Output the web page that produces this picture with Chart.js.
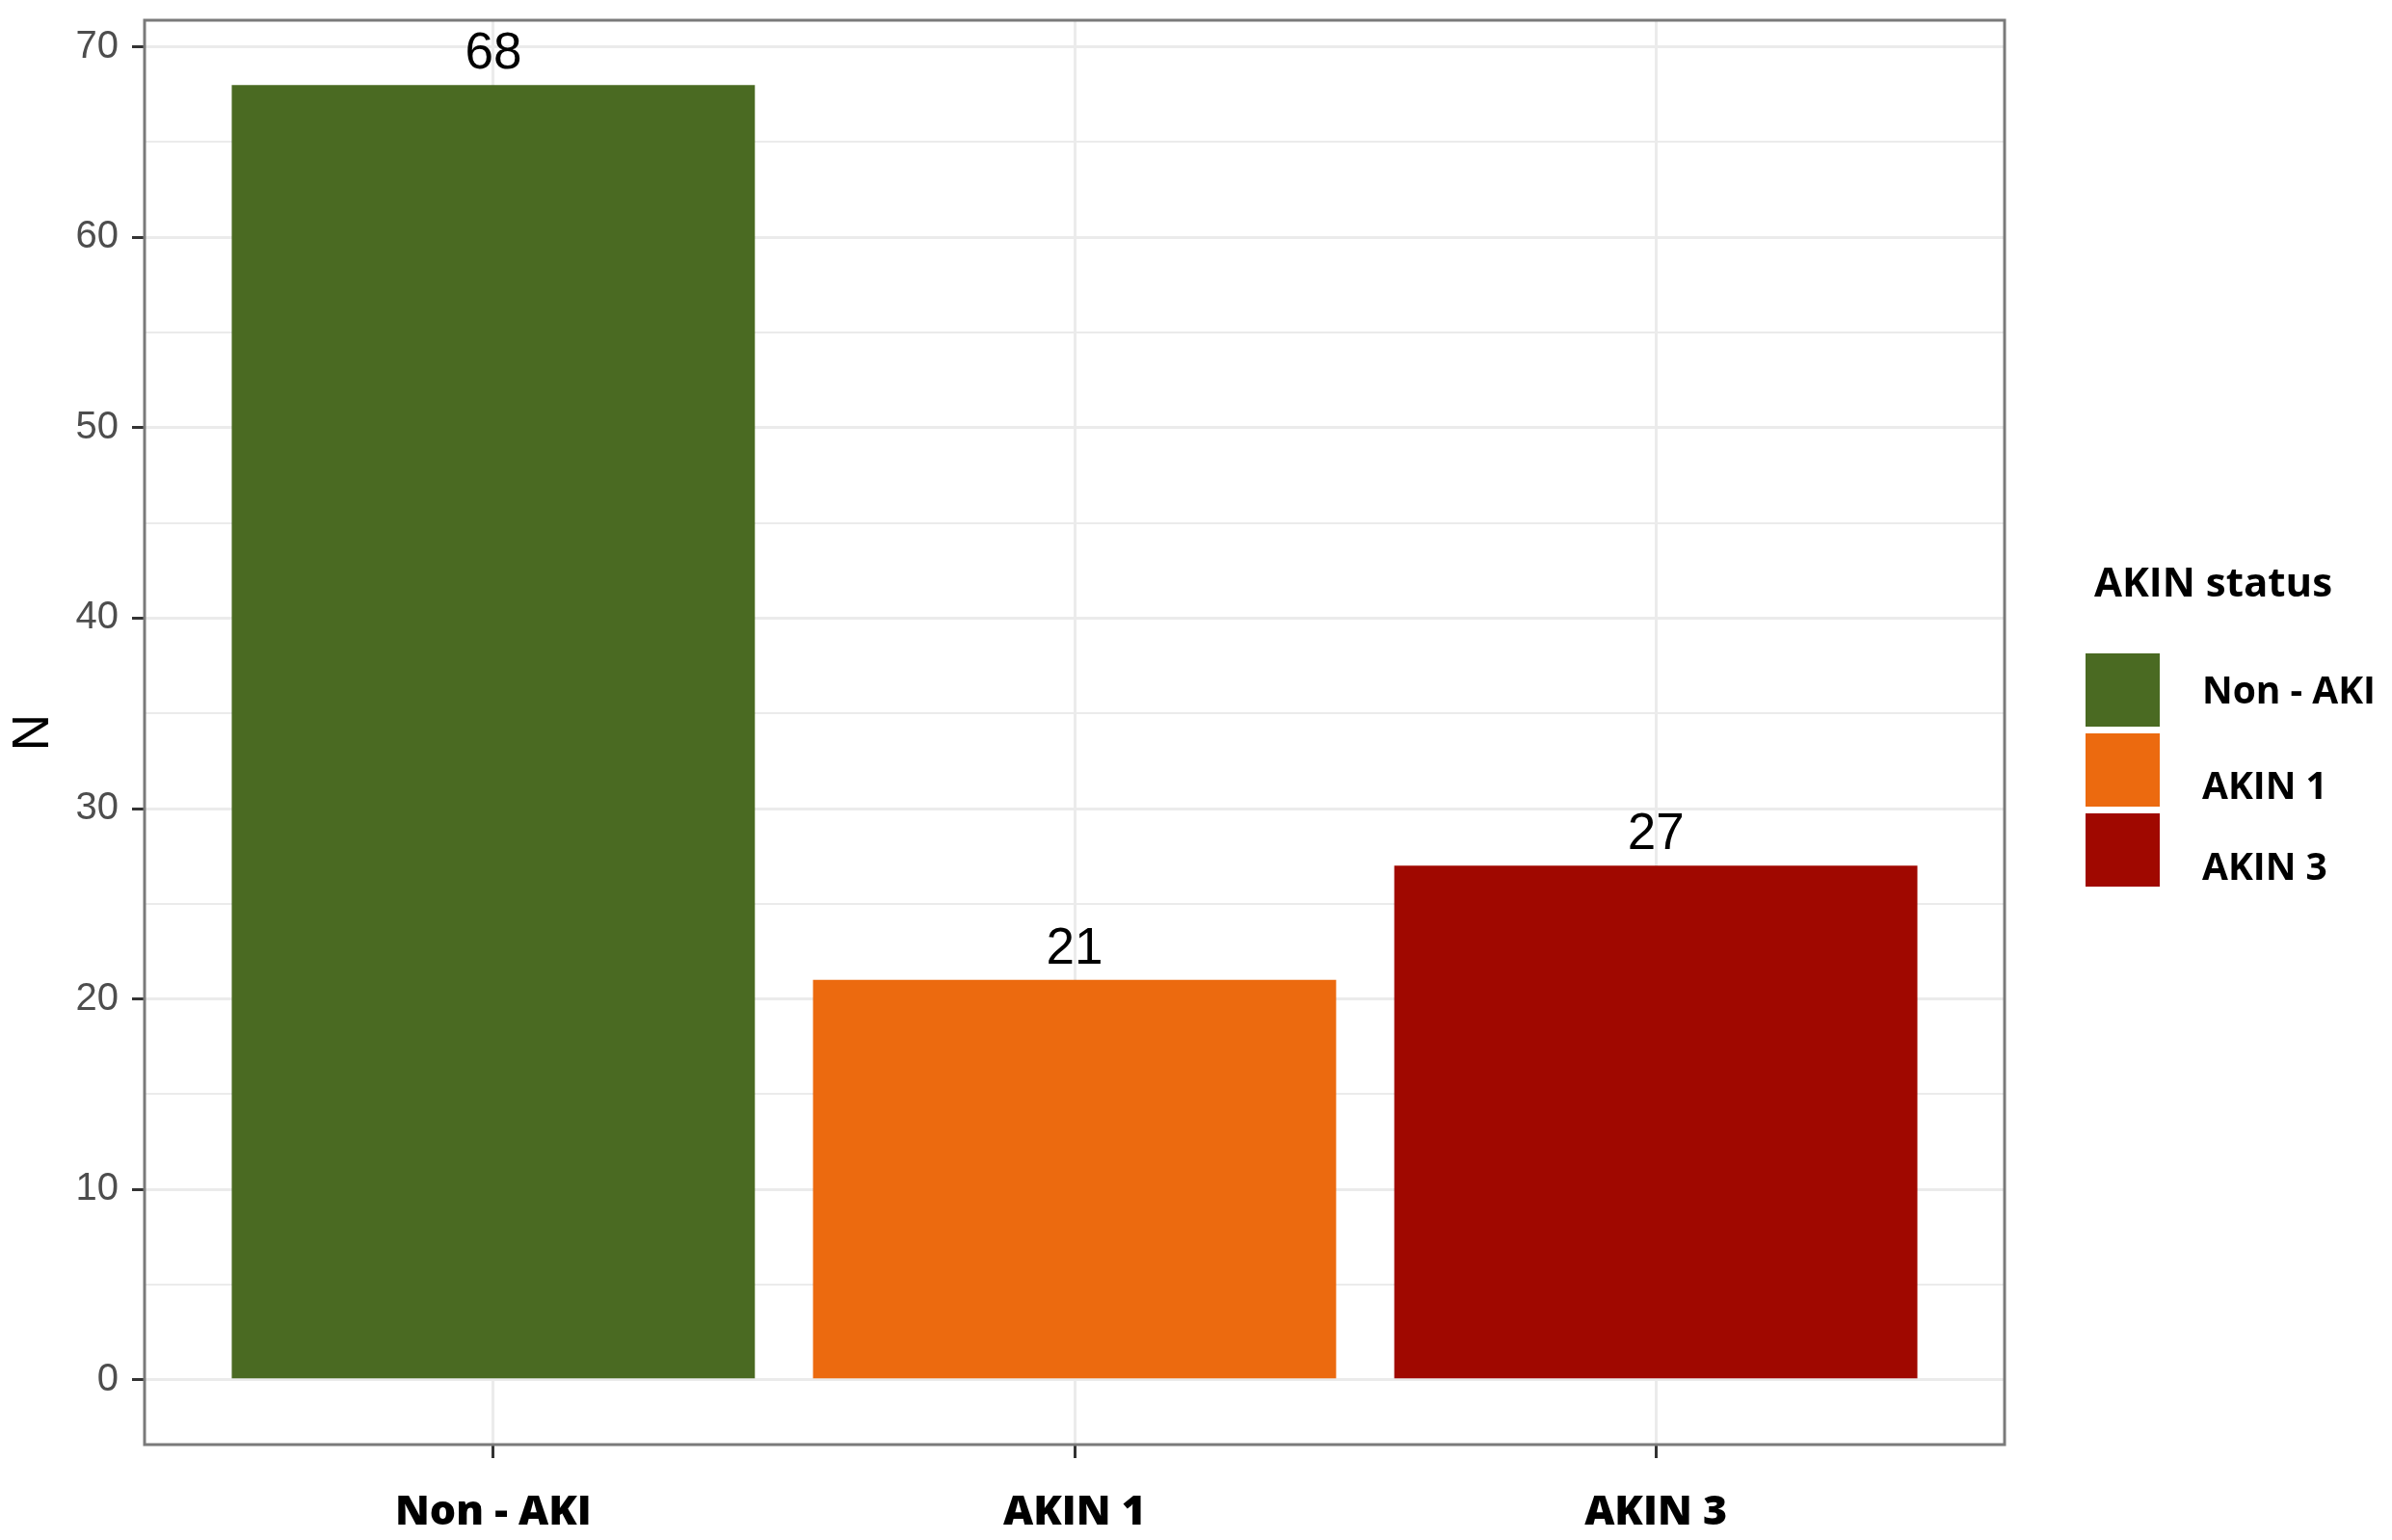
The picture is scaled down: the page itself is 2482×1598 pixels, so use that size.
<!DOCTYPE html>
<html><head><meta charset="utf-8">
<script src="https://cdn.jsdelivr.net/npm/chart.js@4.4.1/dist/chart.umd.min.js"></script>
<style>html,body{margin:0;padding:0;background:#fff}canvas{display:block}</style>
</head><body>
<canvas id="c" width="2482" height="1598"></canvas>
<script>
const categories = ['Non - AKI', 'AKIN 1', 'AKIN 3'];
const counts = [68, 21, 27];
const barColors = ['#4a6a22', '#ec6a0f', '#a00800'];
const yMajorTicks = [0, 10, 20, 30, 40, 50, 60, 70];
const yMinorTicks = [5, 15, 25, 35, 45, 55, 65];
const xTickPositions = [1, 2, 3];
const yTitle = 'N';
const legendTitle = 'AKIN status';

const GRID = '#ebebeb';
const TICK = '#333333';

const panelBorder = {
  id: 'panelBorder',
  afterDraw(chart) {
    const a = chart.chartArea, ctx = chart.ctx;
    ctx.save();
    ctx.strokeStyle = '#7a7a7a';
    ctx.lineWidth = 3;
    ctx.strokeRect(a.left, a.top, a.right - a.left, a.bottom - a.top);
    ctx.restore();
  }
};

const valueLabels = {
  id: 'valueLabels',
  afterDatasetsDraw(chart) {
    const ctx = chart.ctx;
    const meta = chart.getDatasetMeta(0);
    ctx.save();
    ctx.fillStyle = '#000';
    ctx.font = '53px "Liberation Sans", Arial, sans-serif';
    ctx.textAlign = 'center';
    ctx.textBaseline = 'alphabetic';
    meta.data.forEach((bar, i) => {
      ctx.fillText(String(counts[i]), bar.x, bar.y - 17);
    });
    ctx.restore();
  }
};

const ggLegend = {
  id: 'ggLegend',
  afterDraw(chart) {
    const ctx = chart.ctx;
    const a = chart.chartArea;
    const x0 = a.right + 84;
    ctx.save();
    ctx.fillStyle = '#000';
    ctx.font = 'bold 42px "Open Sans", sans-serif';
    ctx.textAlign = 'left';
    ctx.textBaseline = 'alphabetic';
    ctx.fillText(legendTitle, x0 + 9, 619);
    const keyTop = 678, keyH = 76, keyStep = 83;
    const labelOffsets = [0, 16, 17];
    categories.forEach((c, i) => {
      const top = keyTop + i * keyStep;
      ctx.fillStyle = barColors[i];
      ctx.fillRect(x0, top, 77, keyH);
      ctx.fillStyle = '#000';
      ctx.font = 'bold 39px "Open Sans", sans-serif';
      ctx.fillText(c, x0 + 121, top + keyH / 2 + 14 + labelOffsets[i]);
    });
    ctx.restore();
  }
};

new Chart(document.getElementById('c'), {
  type: 'bar',
  data: {
    datasets: [{
      data: categories.map((c, i) => ({ x: xTickPositions[i], y: counts[i] })),
      backgroundColor: barColors,
      borderWidth: 0,
      barPercentage: 0.9,
      categoryPercentage: 1.0
    }]
  },
  options: {
    responsive: false,
    devicePixelRatio: 1,
    animation: false,
    layout: { padding: { top: 21, right: 402, left: 0, bottom: 0 } },
    plugins: { legend: { display: false }, tooltip: { enabled: false } },
    scales: {
      x: {
        type: 'linear',
        offset: false,
        min: 0.4,
        max: 3.6,
        afterBuildTicks: s => { s.ticks = xTickPositions.map(v => ({ value: v })); },
        afterFit: s => { s.height = 99; s.paddingLeft = 0; s.paddingRight = 0; },
        border: { display: false },
        grid: { offset: false, color: GRID, lineWidth: 3, tickColor: TICK, tickWidth: 3, tickLength: 14 },
        ticks: {
          autoSkip: false,
          maxRotation: 0,
          padding: 31,
          color: '#000',
          font: { family: '"Open Sans", sans-serif', size: 43, weight: '800' },
          callback: (v) => categories[xTickPositions.indexOf(v)] ?? ''
        }
      },
      y: {
        type: 'linear',
        min: -3.4,
        max: 71.4,
        afterBuildTicks: s => {
          s.ticks = [...yMajorTicks, ...yMinorTicks].sort((a, b) => a - b).map(v => ({ value: v }));
        },
        afterFit: s => { s.width = 150; s.paddingTop = 0; s.paddingBottom = 0; },
        border: { display: false },
        grid: {
          color: GRID,
          lineWidth: c => yMinorTicks.includes(c.tick && c.tick.value) ? 2 : 3,
          tickColor: c => yMinorTicks.includes(c.tick && c.tick.value) ? 'rgba(0,0,0,0)' : TICK,
          tickWidth: 3,
          tickLength: 13
        },
        ticks: {
          autoSkip: false,
          padding: 14,
          color: '#4d4d4d',
          font: { family: '"Liberation Sans", Arial, sans-serif', size: 40 },
          callback: v => yMajorTicks.includes(v) ? String(v) : ''
        },
        title: {
          display: true,
          text: yTitle,
          color: '#000',
          font: { family: '"Liberation Sans", Arial, sans-serif', size: 53 },
          padding: { top: 4, bottom: 0 }
        }
      }
    }
  },
  plugins: [panelBorder, valueLabels, ggLegend]
});
</script>
</body></html>
